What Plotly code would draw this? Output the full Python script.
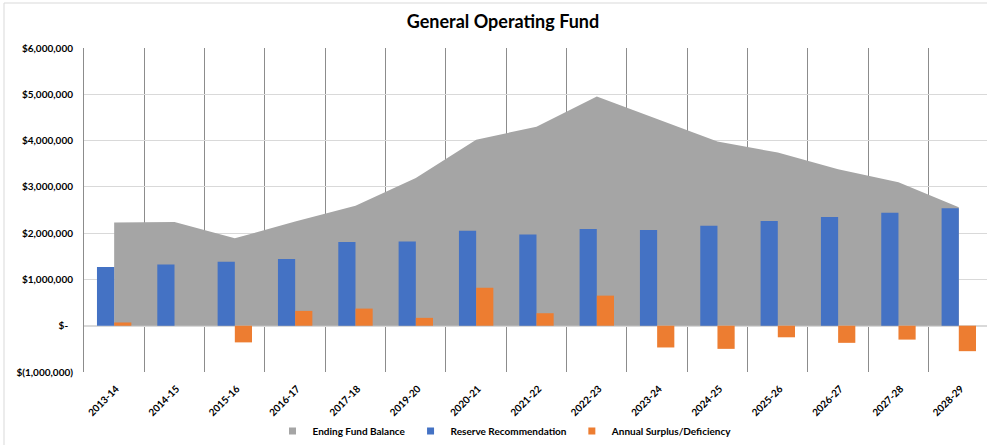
import plotly.graph_objects as go

# Fiscal years shown on the category axis
years = ["2013-14", "2014-15", "2015-16", "2016-17", "2017-18", "2019-20", "2020-21",
         "2021-22", "2022-23", "2023-24", "2024-25", "2025-26", "2026-27", "2027-28", "2028-29"]

# Series values (dollars)
ending_fund_balance = [2230000, 2240000, 1890000, 2250000, 2590000, 3190000, 4020000,
                       4300000, 4950000, 4460000, 3980000, 3740000, 3380000, 3100000, 2560000]
reserve_recommendation = [1270000, 1320000, 1380000, 1440000, 1810000, 1820000, 2050000,
                          1970000, 2090000, 2070000, 2160000, 2260000, 2350000, 2440000, 2540000]
annual_surplus_deficiency = [70000, 0, -360000, 320000, 370000, 170000, 820000,
                             270000, 650000, -470000, -500000, -250000, -370000, -300000, -550000]

# Value axis ticks
y_tickvals = [-1000000, 0, 1000000, 2000000, 3000000, 4000000, 5000000, 6000000]
y_ticktext = ["$(1,000,000)", "$-\u00a0\u00a0", "$1,000,000", "$2,000,000", "$3,000,000",
              "$4,000,000", "$5,000,000", "$6,000,000"]

series_names = ["Ending Fund Balance", "Reserve Recommendation", "Annual Surplus/Deficiency"]

GRAY = "#A5A5A5"
BLUE = "#4472C4"
ORANGE = "#ED7D31"
series_colors = [GRAY, BLUE, ORANGE]
FONT = "Lato"

n = len(years)
xpos = list(range(n))

W, H = 987, 445
ML, MR, MT, MB = 84, 0, 48, 73
plot_w = W - ML - MR
plot_h = H - MT - MB
cat_px = 60.33
x_range = [-0.5, -0.5 + plot_w / cat_px]
y_range = [-1000000, 6000000]

fig = go.Figure()

# Area (drawn on the base axes so the bars sit above it)
fig.add_trace(go.Scatter(
    x=xpos, y=ending_fund_balance, name=series_names[0], showlegend=False,
    mode="lines", line=dict(width=0, color=GRAY), fill="tozeroy", fillcolor=GRAY,
    xaxis="x", yaxis="y",
))

# Clustered columns on an overlaid pair of axes
fig.add_trace(go.Bar(
    x=xpos, y=reserve_recommendation, name=series_names[1], showlegend=False,
    marker=dict(color=BLUE, line=dict(width=0)), xaxis="x2", yaxis="y2",
))
fig.add_trace(go.Bar(
    x=xpos, y=annual_surplus_deficiency, name=series_names[2], showlegend=False,
    marker=dict(color=ORANGE, line=dict(width=0)), xaxis="x2", yaxis="y2",
))

# Legend entries with small square keys
for name, color in zip(series_names, series_colors):
    fig.add_trace(go.Scatter(
        x=[None], y=[None], name=name, mode="markers",
        marker=dict(symbol="square", size=7, color=color), xaxis="x", yaxis="y",
    ))

tick_font = dict(family=FONT, size=10, color="#000000", weight="bold")

fig.update_layout(
    width=W, height=H,
    margin=dict(l=ML, r=MR, t=MT, b=MB, autoexpand=False),
    paper_bgcolor="white", plot_bgcolor="white",
    barmode="group", bargap=0.43, bargroupgap=0,
    title=dict(text="General Operating Fund", x=503 / W, xref="container", xanchor="center",
               y=1 - 22 / H, yref="container", yanchor="middle",
               font=dict(family=FONT, size=18, color="#000000", weight="bold")),
    showlegend=True,
    legend=dict(orientation="h", x=(505 - ML) / plot_w, xanchor="center",
                y=-(431 - (H - MB)) / plot_h, yanchor="middle",
                font=dict(family=FONT, size=10, color="#000000", weight="bold"),
                bgcolor="rgba(0,0,0,0)", itemwidth=30, traceorder="normal"),
    xaxis=dict(
        range=x_range, tickmode="array", tickvals=xpos, ticktext=years,
        tickangle=-45, tickfont=tick_font, showgrid=False, zeroline=False,
        ticks="outside", ticklen=6, tickcolor="rgba(0,0,0,0)", showline=False,
        ticklabelshift=2,
        minor=dict(tickmode="array", tickvals=[i - 0.5 for i in range(n + 1)],
                   showgrid=True, gridcolor="#8C8C8C", gridwidth=1, ticks=""),
    ),
    yaxis=dict(
        range=y_range, tickmode="array", tickvals=y_tickvals, ticktext=y_ticktext,
        tickfont=tick_font, showgrid=True, gridcolor="#D9D9D9", gridwidth=1,
        zeroline=True, zerolinecolor="#D9D9D9", zerolinewidth=2,
        showline=True, linecolor="#8C8C8C", linewidth=1,
        ticks="outside", ticklen=8, tickcolor="rgba(0,0,0,0)",
    ),
    xaxis2=dict(range=x_range, overlaying="x", visible=False),
    yaxis2=dict(range=y_range, overlaying="y", visible=False),
)

# Faint outer chart-area border (top and left edges)
bx = (4 - ML) / plot_w
by = (H - MB - 3) / plot_h
fig.add_shape(type="line", xref="paper", yref="paper", x0=bx, x1=1.1, y0=by, y1=by,
              line=dict(color="#D9D9D9", width=1), layer="below")
fig.add_shape(type="line", xref="paper", yref="paper", x0=bx, x1=bx, y0=by, y1=-0.3,
              line=dict(color="#D9D9D9", width=1), layer="below")

fig.write_html("out.html")
